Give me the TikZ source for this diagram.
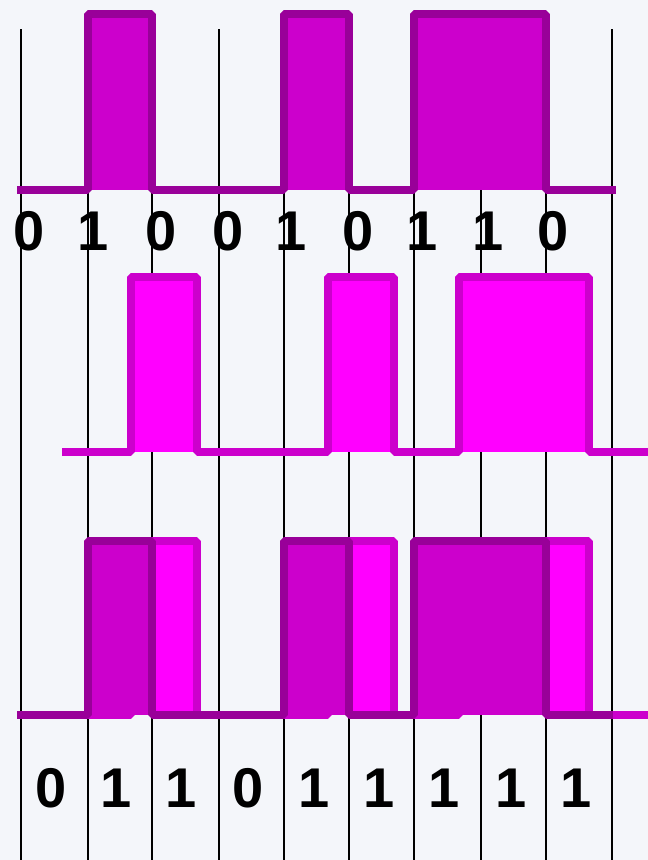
\documentclass[tikz,border=0pt]{standalone}
\usepackage{fontspec}
\setmainfont{Liberation Sans}
\definecolor{bgc}{HTML}{F4F6FA}
\definecolor{darkstroke}{HTML}{990099}
\definecolor{darkfill}{HTML}{CC00CC}
\definecolor{lightstroke}{HTML}{CC00CC}
\definecolor{lightfill}{HTML}{FF00FF}
\tikzset{
  gridline/.style={draw=black, line width=1.2pt},
  darkwave/.style={draw=darkstroke, line width=7.5pt, line join=bevel},
  lightwave/.style={draw=lightstroke, line width=7.5pt, line join=bevel},
  darkpulse/.style={fill=darkfill},
  lightpulse/.style={fill=lightfill},
  bit/.style={font=\fontsize{56}{56}\selectfont\bfseries, inner sep=0pt, anchor=base, text=black}
}
\begin{document}
\begin{tikzpicture}[x=1pt,y=-1pt]
\fill[bgc] (0,0) rectangle (648,860);
\useasboundingbox (0,0) rectangle (648,860);
% grid lines
\foreach \x in {21,219,612} {\draw[gridline] (\x,29) -- (\x,860);}
\foreach \x in {88,152,284,349,414,481,546} {\draw[gridline] (\x,190) -- (\x,860);}
% top waveform
\foreach \a/\b in {88/152,284/349,414/546} {\fill[darkpulse] (\a,14) rectangle (\b,190);}
\draw[darkwave] (17,190) -- (88,190) -- (88,14) -- (152,14) -- (152,190) -- (284,190) -- (284,14) -- (349,14) -- (349,190) -- (414,190) -- (414,14) -- (546,14) -- (546,190) -- (616,190);
% middle waveform
\foreach \a/\b in {131/197,328/394,459/589} {\fill[lightpulse] (\a,277) rectangle (\b,452);}
\draw[lightwave] (62,452) -- (131,452) -- (131,277) -- (197,277) -- (197,452) -- (328,452) -- (328,277) -- (394,277) -- (394,452) -- (459,452) -- (459,277) -- (589,277) -- (589,452) -- (648,452);
% bottom: overlay
\foreach \a/\b in {131/197,328/394,459/589} {\fill[lightpulse] (\a,541) rectangle (\b,715);}
\draw[lightwave] (62,715) -- (131,715) -- (131,541) -- (197,541) -- (197,715) -- (328,715) -- (328,541) -- (394,541) -- (394,715) -- (459,715) -- (459,541) -- (589,541) -- (589,715) -- (648,715);
\foreach \a/\b in {88/152,284/349,414/546} {\fill[darkpulse] (\a,541) rectangle (\b,715);}
\draw[darkwave] (17,715) -- (88,715) -- (88,541) -- (152,541) -- (152,715) -- (284,715) -- (284,541) -- (349,541) -- (349,715) -- (414,715) -- (414,541) -- (546,541) -- (546,715) -- (613,715);
% top bits
\foreach \x/\t [count=\i] in {29/0,93/1,161/0,228/0,291/1,358/0,422/1,488/1,553/0} {\node[bit] (t\i) at (\x,250) {\t};}
% bottom bits
\foreach \x/\t [count=\i] in {51/0,116/1,181/1,248/0,314/1,379/1,444/1,511/1,576/1} {\node[bit] (b\i) at (\x,807) {\t};}
\end{tikzpicture}
\end{document}
